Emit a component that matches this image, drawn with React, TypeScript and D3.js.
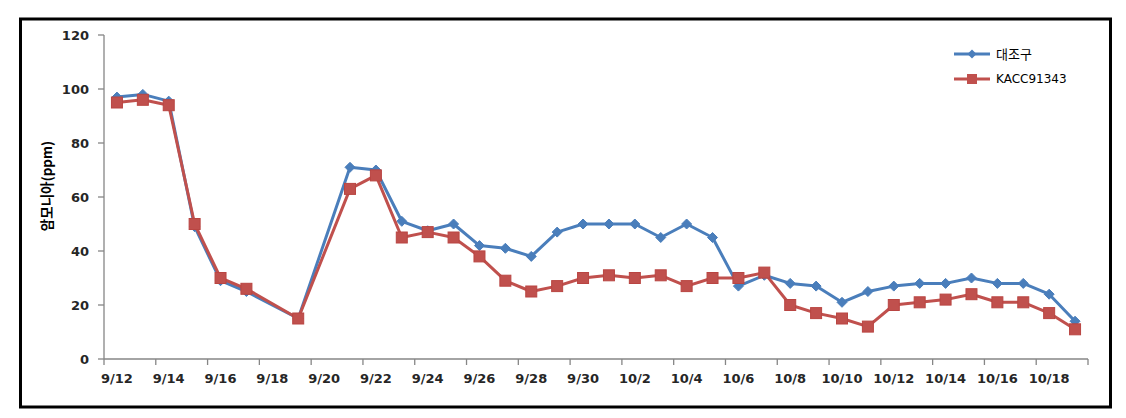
import React from "react";
import * as d3 from "d3";

const dates = ["9/12","9/13","9/14","9/15","9/16","9/17","9/19","9/21","9/22","9/23","9/24","9/25","9/26","9/27","9/28","9/29","9/30","10/1","10/2","10/3","10/4","10/5","10/6","10/7","10/8","10/9","10/10","10/11","10/12","10/13","10/14","10/15","10/16","10/17","10/18","10/19"];
const control = [97,98,95.5,49,29,25,15,71,70,51,47.5,50,42,41,38,47,50,50,50,45,50,45,27,31,28,27,21,25,27,28,28,30,28,28,24,14];
const kacc = [95,96,94,50,30,26,15,63,68,45,47,45,38,29,25,27,30,31,30,31,27,30,30,32,20,17,15,12,20,21,22,24,21,21,17,11];
const xTickLabels = ["9/12","9/14","9/16","9/18","9/20","9/22","9/24","9/26","9/28","9/30","10/2","10/4","10/6","10/8","10/10","10/12","10/14","10/16","10/18"];
const yTicks = [0,20,40,60,80,100,120];
const seriesNames = ["대조구","KACC91343"];

const BLUE = "#4a7ebb";
const RED = "#c0504d";

function dayIndex(s: string): number {
  const [m, d] = s.split("/").map(Number);
  const t = Date.UTC(2010, m - 1, d);
  const t0 = Date.UTC(2010, 8, 12);
  return Math.round((t - t0) / 86400000);
}

export default function App() {
  const W = 1126, H = 418;
  const x = d3.scaleLinear().domain([-0.5, 37.5]).range([104, 1088]);
  const y = d3.scaleLinear().domain([0, 120]).range([359, 35]);
  const line = d3.line<[number, number]>().x(d => x(d[0])).y(d => y(d[1]));
  const ptsC: [number, number][] = dates.map((d, i) => [dayIndex(d), control[i]]);
  const ptsK: [number, number][] = dates.map((d, i) => [dayIndex(d), kacc[i]]);
  const xTicks = d3.range(-0.5, 37.6, 2);
  const font = "'DejaVu Sans', Verdana, sans-serif";
  const diamond = (cx: number, cy: number, r: number) =>
    `M${cx},${cy - r}L${cx + r},${cy}L${cx},${cy + r}L${cx - r},${cy}Z`;
  return (
    <svg width={W} height={H} style={{ position: "absolute", left: 0, top: 0 }}>
      <rect x={0} y={0} width={W} height={H} fill="#fff" />
      <rect x={20.5} y={19} width={1090} height={388} fill="none" stroke="#000" strokeWidth={3} />
      {/* y axis */}
      <line x1={104} x2={104} y1={y(120)} y2={y(0)} stroke="#868686" strokeWidth={1.3} />
      {yTicks.map(t => (
        <g key={t}>
          <line x1={98} x2={104} y1={y(t)} y2={y(t)} stroke="#868686" strokeWidth={1.3} />
          <text x={89} y={y(t)} dy="0.35em" textAnchor="end" fontFamily={font} fontWeight="bold" fontSize={13} fill="#262626">{t}</text>
        </g>
      ))}
      {/* x axis */}
      <line x1={x(-0.5)} x2={x(37.5)} y1={y(0)} y2={y(0)} stroke="#868686" strokeWidth={1.3} />
      {xTicks.map(t => (
        <line key={t} x1={x(t)} x2={x(t)} y1={y(0)} y2={y(0) + 6} stroke="#868686" strokeWidth={1.3} />
      ))}
      {xTickLabels.map(l => (
        <text key={l} x={x(dayIndex(l))} y={378} dy="0.35em" textAnchor="middle" fontFamily={font} fontWeight="bold" fontSize={13} fill="#262626">{l}</text>
      ))}
      <text transform="translate(47,186) rotate(-90)" textAnchor="middle" dy="0.35em" fontFamily="'Noto Sans CJK KR', sans-serif" fontWeight="bold" fontSize={13.5} fill="#000">암모니아(ppm)</text>
      {/* series */}
      <path d={line(ptsC) || ""} fill="none" stroke={BLUE} strokeWidth={3} strokeLinejoin="round" />
      {ptsC.map((p, i) => (
        <path key={i} d={diamond(x(p[0]), y(p[1]), 5)} fill={BLUE} stroke={BLUE} strokeWidth={1} />
      ))}
      <path d={line(ptsK) || ""} fill="none" stroke={RED} strokeWidth={3} strokeLinejoin="round" />
      {ptsK.map((p, i) => (
        <rect key={i} x={x(p[0]) - 5.5} y={y(p[1]) - 5.5} width={11} height={11} fill={RED} stroke="#b94542" strokeWidth={1} />
      ))}
      {/* legend */}
      <line x1={954} x2={990} y1={54} y2={54} stroke={BLUE} strokeWidth={3} />
      <path d={diamond(972, 54, 4.5)} fill={BLUE} />
      <text x={996} y={54} dy="0.35em" fontFamily="'Noto Sans CJK KR', sans-serif" fontSize={13} fill="#000">{seriesNames[0]}</text>
      <line x1={954} x2={990} y1={79} y2={79} stroke={RED} strokeWidth={3} />
      <rect x={967} y={74} width={10} height={10} fill={RED} />
      <text x={996} y={79} dy="0.35em" fontFamily={font} fontSize={12} fill="#000">{seriesNames[1]}</text>
    </svg>
  );
}
